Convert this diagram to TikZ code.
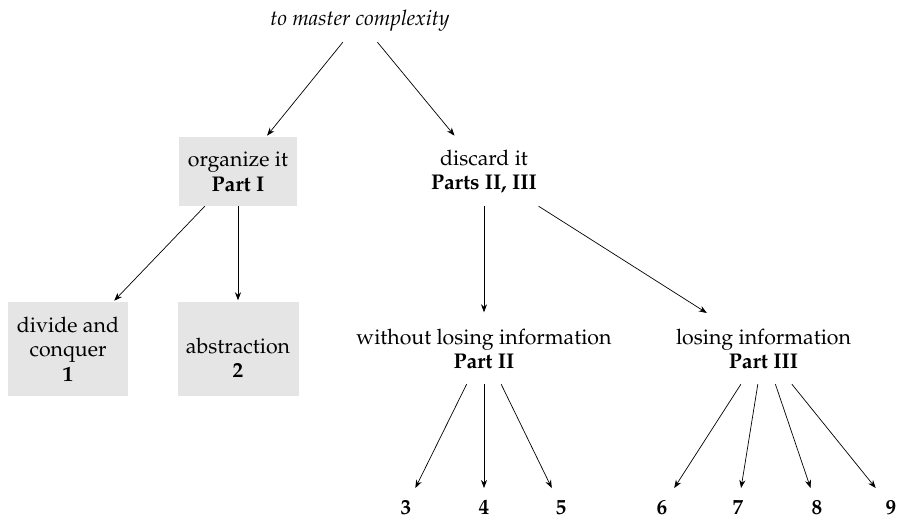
\documentclass[tikz,border=0pt]{standalone}
\usepackage[T1]{fontenc}
\usepackage{mathpazo}
\usetikzlibrary{arrows.meta,calc}
\begin{document}
\begin{tikzpicture}[x=1pt,y=-1pt,
  every node/.style={font=\fontsize{21.3}{24.5}\selectfont, align=center, inner sep=0pt},
  box/.style={minimum width=118pt, minimum height=69pt},
  gbox/.style={fill=gray!20, minimum width=121pt, minimum height=94pt},
  lbox/.style={minimum height=70pt},
  num/.style={font=\fontsize{21.3}{24.5}\selectfont\bfseries},
  arr/.style={-{Stealth[length=8pt,width=6pt,inset=2.5pt]}, line width=0.7pt, shorten >=1.5pt},
  leaf/.style={arr, shorten >=0pt},
]
\useasboundingbox (0,0) rectangle (899,520);
\node[minimum height=42pt] (top) at (360,21) {\itshape to master complexity};
\node[box, fill=gray!20] (org) at (238,171.5) {organize it\\\textbf{Part I}};
\node[box] (disc) at (484,171.5) {discard it\\\textbf{Parts II, III}};
\node[gbox, minimum width=120pt] (dc) at (68,349) {divide and\\conquer\\\textbf{1}};
\node[gbox] (absbox) at (238,349) {};
\node (abs) at (238,357.75) {abstraction\\\textbf{2}};
\node[lbox] (wo) at (484,349) {without losing information\\\textbf{Part II}};
\node[lbox] (lo) at (763.5,349) {losing information\\\textbf{Part III}};
\node[num] (n3) at (406,507) {3};
\node[num] (n4) at (484,507) {4};
\node[num] (n5) at (561,507) {5};
\node[num] (n6) at (662,507) {6};
\node[num] (n7) at (738,507) {7};
\node[num] (n8) at (817,507) {8};
\node[num] (n9) at (891,507) {9};
\draw[arr] (top) -- (org);
\draw[arr] (top) -- (disc);
\draw[arr] (org) -- (dc);
\draw[arr] (org) -- (absbox);
\draw[arr] (disc) -- (wo);
\draw[arr] (disc) -- (lo);
\foreach \n in {n3,n4,n5} \draw[leaf] (wo) -- ($(wo)!0.88!(\n)$);
\foreach \n in {n6,n7,n8,n9} \draw[leaf] (lo) -- ($(lo)!0.88!(\n)$);
\end{tikzpicture}
\end{document}
